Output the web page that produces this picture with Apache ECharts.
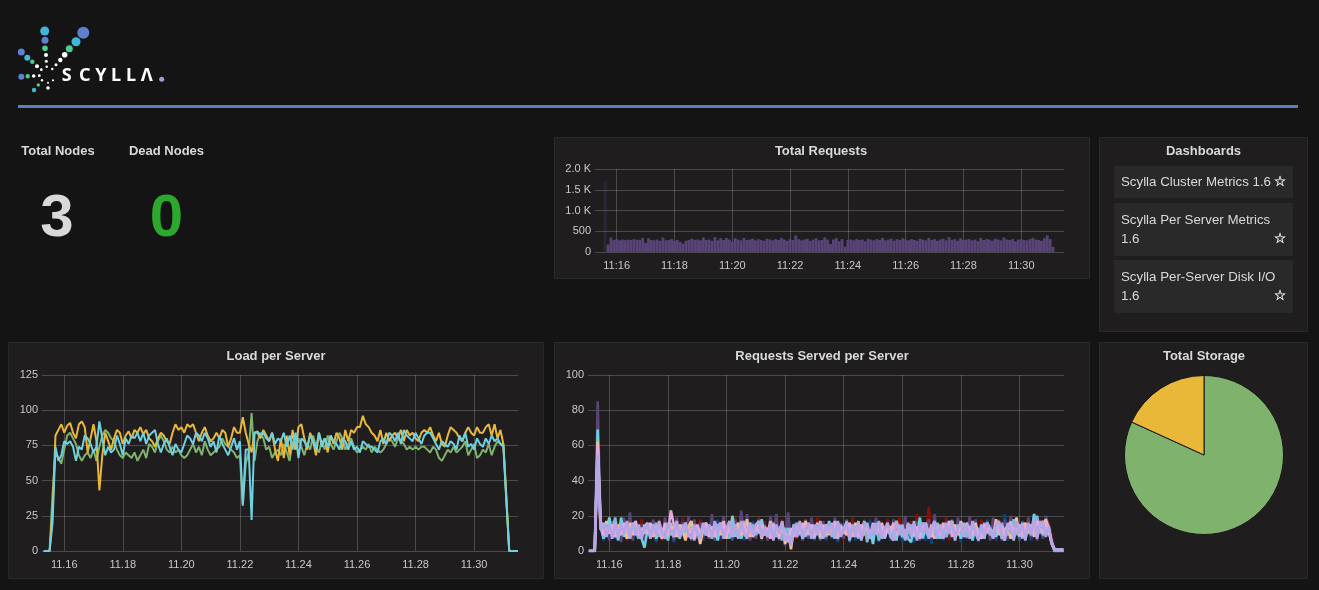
<!DOCTYPE html>
<html lang="en">
<head>
    <meta charset="UTF-8">
    <title>Scylla Overview</title>
    <script src="https://cdn.jsdelivr.net/npm/echarts@6/dist/echarts.min.js"></script>
    <style>
        html, body { margin: 0; padding: 0; background: #141414; overflow: hidden; }
    </style>
</head>
<body>
    <div id="main" style="width: 1319px; height: 590px;"></div>
    <script>
        // minutes after 11:00, one tick every two minutes
        const tickMinutes = [16, 18, 20, 22, 24, 26, 28, 30];
        const requestTickValues = [0, 500, 1000, 1500, 2000];
        const requestTickLabels = ['0', '500', '1.0 K', '1.5 K', '2.0 K'];

        // Total Requests, one bar per sample from 11:15.6 on
        const totalRequestsStart = 15.6;
        const totalRequests = [
            1700,180,350,290,310,280,300,285,300,290,
            310,295,285,340,220,330,290,280,300,270,
            350,280,290,310,270,290,240,200,270,290,
            320,295,300,280,350,290,300,270,360,280,
            330,290,340,300,250,330,300,280,340,290,
            300,320,280,310,290,270,320,300,280,310,
            290,340,300,270,310,290,400,310,280,300,
            320,270,300,330,280,290,350,300,190,300,
            340,260,310,130,290,300,280,310,290,300,
            260,320,300,280,310,290,340,280,300,320,
            270,310,290,330,300,280,310,290,270,320,
            300,280,340,290,310,270,300,320,280,360,
            290,310,270,330,290,300,310,280,300,260,
            340,290,310,300,270,320,300,280,350,300,
            290,310,260,300,310,290,280,310,340,300,
            290,270,330,400,310,120
        ];

        // per server charts share one sample clock from 11:15.3 on
        const serverStart = 15.3;

        const loadYellow = [
            0,0,0,28,82,86,90,84,89,91,
            84,80,90,92,88,70,80,90,78,43,
            68,84,78,72,80,86,84,76,82,85,
            80,86,84,88,83,86,80,78,74,80,
            84,82,78,76,84,90,86,88,84,90,
            88,90,84,78,84,88,82,78,80,84,
            80,86,84,74,80,88,84,84,95,84,
            76,70,84,84,80,86,82,78,84,72,
            64,80,66,82,68,86,72,88,90,80,
            72,84,78,68,84,76,80,70,82,76,
            84,80,72,86,78,86,84,88,88,96,
            90,88,84,82,78,86,76,84,78,82,
            84,80,86,78,86,82,84,80,78,84,
            86,84,88,82,78,84,76,74,82,88,
            86,84,80,78,84,88,84,82,88,84,
            84,88,90,82,90,80,86,76,38,0,
            0,0,0
        ];
        const loadGreen = [
            0,0,0,40,70,66,62,72,82,84,
            80,76,68,64,68,70,66,72,64,74,
            82,86,84,80,78,72,68,66,70,68,
            66,70,64,68,72,66,76,74,70,78,
            82,78,72,70,74,70,72,68,66,68,
            72,76,70,74,68,78,72,68,70,72,
            74,80,76,74,72,70,66,68,32,62,
            70,98,64,78,84,80,72,74,66,70,
            72,68,76,70,64,78,72,80,74,68,
            76,72,82,74,70,78,72,82,76,72,
            78,84,80,72,76,80,74,70,72,74,
            72,76,70,74,72,70,72,76,80,78,
            74,80,78,76,72,74,72,74,72,74,
            74,72,70,74,72,66,64,68,72,70,
            74,70,72,74,78,68,72,76,66,68,
            72,70,76,68,74,78,76,76,40,0,
            0,0,0
        ];
        const loadBlue = [
            0,0,0,20,74,64,68,78,76,78,
            74,64,74,72,82,80,76,70,74,92,
            80,68,74,70,72,82,76,68,80,76,
            82,80,84,78,84,76,82,84,86,76,
            70,76,80,74,68,76,72,70,76,82,
            80,76,84,82,78,84,80,74,78,70,
            82,76,72,68,74,80,72,78,33,72,
            72,22,84,85,82,84,80,78,84,76,
            80,78,84,74,82,72,84,66,80,78,
            74,82,78,72,84,74,80,74,82,78,
            76,72,80,78,72,78,72,74,70,78,
            76,74,74,72,70,78,80,76,84,82,
            78,84,76,86,82,80,78,84,80,76,
            82,84,84,80,76,72,78,76,74,78,
            76,72,82,78,84,74,76,72,80,76,
            74,80,76,82,78,80,76,74,36,0,
            0,0,0
        ];

        const servedDarkRed = [
            0,0,0,30,14,8,16,7,17,9,
            16,7,18,6,17,8,15,7,18,9,
            16,7,14,9,18,6,15,8,17,7,
            18,8,19,7,15,6,17,9,18,7,
            15,8,19,7,16,6,18,8,17,9,
            19,7,16,8,18,6,15,7,19,8,
            17,6,15,8,19,7,18,4,16,3,
            14,7,17,6,18,8,16,7,19,6,
            17,8,15,7,18,9,16,6,17,8,
            19,7,16,6,18,8,15,7,17,9,
            16,8,18,7,15,6,19,8,17,7,
            17,6,21,8,16,7,25,8,18,7,
            16,8,19,6,17,7,18,9,15,7,
            19,8,16,6,18,7,15,8,17,6,
            18,7,16,8,19,6,17,8,15,7,
            19,8,17,7,18,9,16,16,8,0,
            0,0,0
        ];
        const servedDarkBlue = [
            0,0,0,45,16,6,13,8,15,7,
            14,6,16,8,13,6,15,9,12,6,
            16,8,13,5,15,7,14,8,16,5,
            13,7,17,8,12,6,15,7,14,6,
            16,7,13,6,18,7,14,8,15,6,
            13,8,16,6,14,7,17,8,13,6,
            15,7,13,8,16,6,14,3,12,5,
            16,8,14,6,13,7,17,6,14,8,
            13,6,16,7,14,5,15,8,13,7,
            16,6,14,8,15,7,18,6,13,5,
            15,7,14,6,16,8,13,5,17,7,
            14,5,16,8,13,6,15,4,18,7,
            14,6,17,8,13,7,16,5,15,7,
            16,6,14,5,13,7,18,8,15,6,
            14,7,21,6,15,8,13,6,17,7,
            13,6,16,8,14,7,18,15,6,0,
            0,0,0
        ];
        const servedDarkPurple = [
            0,0,0,85,18,9,15,6,17,8,
            15,5,19,7,22,6,16,8,15,7,
            14,7,18,6,16,8,19,7,15,6,
            19,8,16,7,20,6,18,7,16,8,
            15,7,21,6,16,9,20,7,16,6,
            18,7,23,8,21,6,16,7,18,8,
            15,6,20,9,21,6,17,3,22,7,
            15,8,16,6,18,7,19,8,15,6,
            17,7,15,8,19,6,16,7,18,5,
            15,8,17,6,16,9,14,7,19,6,
            15,7,16,8,18,6,14,7,20,6,
            15,8,17,6,14,9,18,7,21,8,
            15,7,16,9,18,6,19,8,15,7,
            20,6,18,8,15,7,17,6,19,8,
            16,6,18,7,20,8,15,6,17,7,
            19,8,21,6,16,7,20,14,5,0,
            0,0,0
        ];
        const servedTeal = [
            0,0,0,69,15,7,12,19,9,14,
            6,19,8,13,7,15,9,14,7,2,
            12,8,15,7,14,9,13,6,16,8,
            13,7,15,9,12,16,8,14,7,13,
            9,15,8,12,6,16,9,14,7,20,
            8,15,7,13,9,16,8,14,10,18,
            9,13,7,15,8,12,16,6,13,9,
            15,8,13,7,16,9,14,8,15,7,
            12,9,17,8,14,7,15,10,16,6,
            13,8,15,7,17,9,12,4,16,8,
            14,7,13,9,16,6,15,8,12,7,
            5,15,8,19,7,14,9,13,8,16,
            7,12,9,15,17,8,13,7,16,9,
            14,6,15,8,13,7,16,9,12,8,
            15,7,13,9,17,6,14,8,16,7,
            14,9,21,8,17,9,13,11,5,0,
            0,0,0
        ];
        const servedPeach = [
            0,0,0,62,14,9,17,10,14,8,
            15,10,13,7,16,9,14,11,8,15,
            10,16,8,13,11,7,15,9,14,12,
            8,15,11,6,14,17,9,13,4,12,
            16,8,13,10,15,9,17,7,14,10,
            13,16,9,12,18,8,14,11,16,7,
            14,10,17,9,13,7,15,4,11,1,
            13,9,15,8,17,10,14,9,16,8,
            12,15,9,14,7,16,11,13,9,15,
            8,16,10,13,9,15,7,14,11,8,
            16,9,12,14,8,17,10,13,7,15,
            9,14,11,8,16,12,9,15,7,14,
            10,16,8,13,11,15,9,17,12,8,
            14,10,16,7,13,9,15,11,8,18,
            9,14,11,15,7,13,19,9,12,16,
            10,14,8,19,11,15,18,13,5,0,
            0,0,0
        ];
        const servedBlue = [
            0,0,0,58,13,8,15,11,13,19,
            8,14,10,12,9,16,11,7,13,10,
            15,9,12,16,8,13,10,14,9,12,
            16,8,11,14,9,13,6,12,10,15,
            9,13,11,8,14,16,10,12,8,15,
            11,9,13,17,8,12,15,9,13,10,
            14,8,12,16,9,11,6,13,10,7,
            12,16,9,13,8,14,11,7,15,10,
            13,8,16,11,9,14,10,12,17,8,
            11,14,7,13,16,5,12,9,15,6,
            13,10,15,8,12,17,9,14,6,11,
            15,8,12,9,16,11,8,13,10,7,
            14,11,8,17,12,9,15,10,14,8,
            12,15,9,13,7,16,10,12,8,14,
            11,16,8,13,10,18,9,14,7,12,
            15,9,13,20,10,14,9,12,4,0,
            0,0,0
        ];
        const servedPink = [
            0,0,0,60,17,9,13,10,15,8,
            13,9,16,11,8,14,17,9,13,10,
            12,15,9,14,11,8,16,10,23,15,
            9,14,11,16,8,13,7,15,10,12,
            16,9,14,8,13,11,16,9,13,8,
            15,10,12,16,9,14,8,13,11,15,
            9,13,7,15,11,8,14,10,5,13,
            8,14,10,16,9,12,15,8,13,10,
            15,9,13,11,17,8,14,10,12,16,
            9,13,8,15,11,14,7,16,10,12,
            15,8,13,10,16,9,12,14,8,15,
            11,9,14,7,13,16,10,8,15,12,
            9,15,11,17,8,13,10,14,8,16,
            12,9,14,10,7,15,11,13,8,16,
            10,14,8,13,16,9,12,15,8,14,
            11,15,9,17,13,10,16,11,4,1,
            1,1,1
        ];
        const servedLavender = [
            0,0,0,55,12,16,8,15,7,16,
            8,15,10,17,7,16,9,15,7,14,
            16,7,15,9,17,10,7,16,11,8,
            17,8,13,16,9,7,15,10,7,16,
            9,15,7,17,10,16,7,13,17,8,
            15,7,17,10,7,16,9,15,17,8,
            13,8,16,6,15,10,17,6,9,3,
            15,8,17,7,13,16,7,15,9,17,
            7,15,10,16,7,17,8,13,16,7,
            15,8,17,6,13,16,7,15,10,17,
            7,13,16,8,6,17,10,15,7,16,
            8,17,6,15,10,16,7,13,17,8,
            15,7,16,10,17,6,13,16,8,15,
            7,17,10,6,15,8,16,13,7,15,
            17,8,6,16,13,7,17,10,15,6,
            16,10,18,7,15,17,8,14,5,1,
            1,1,1
        ];

        const storageNames = ['Used', 'Free'];
        const storageValues = [81.8, 18.2];

        const textColor = '#d8d9da';
        const labelColor = '#c9c9c9';
        const gridColor = 'rgba(255,255,255,0.2)';
        const fontName = '"Liberation Sans", Arial, sans-serif';

        // pair each value with its sample time
        function timed(values, start) {
            return values.map((v, i) => [start + i / 10, v]);
        }

        function panel(x, y, w, h) {
            return {
                type: 'rect', z: -10, silent: true,
                shape: { x: x + 0.5, y: y + 0.5, width: w, height: h },
                style: { fill: '#1f1d1e', stroke: '#292929', lineWidth: 1 }
            };
        }

        function box(x, y, w, h) {
            return {
                type: 'rect', z: -5, silent: true,
                shape: { x, y, width: w, height: h },
                style: { fill: '#292929' }
            };
        }

        function label(text, x, y, opts) {
            return {
                type: 'text', z: 5, silent: true, x, y,
                style: Object.assign({
                    text, fill: textColor, font: '13.3px ' + fontName,
                    textAlign: 'left', textVerticalAlign: 'middle'
                }, opts || {})
            };
        }

        function title(text, x, y) {
            return label(text, x, y, { font: 'bold 13px ' + fontName, textAlign: 'center' });
        }

        function dot(x, y, r, fill) {
            return { type: 'circle', z: 5, silent: true, shape: { cx: x, cy: y, r }, style: { fill } };
        }

        const logo = [
            dot(44.7, 31, 4.5, '#3fb8d8'), dot(45, 40.3, 3.5, '#5f7fd0'), dot(45, 48.3, 2.8, '#4ecb8f'),
            dot(46, 55, 2, '#fff'), dot(46.3, 61.3, 1.5, '#fff'), dot(46.7, 66.7, 1.2, '#fff'),
            dot(83.3, 32.7, 6, '#5e7fd0'), dot(76, 41.7, 4.5, '#3fb8d8'), dot(69.3, 48.7, 3.5, '#4ecb8f'),
            dot(64.7, 54.7, 2.8, '#fff'), dot(60.3, 60, 2.2, '#fff'), dot(56, 64.7, 1.5, '#fff'), dot(52.3, 69, 1.2, '#fff'),
            dot(21.3, 52, 3.5, '#5f7fd0'), dot(27.3, 57.7, 3, '#3fb8d8'), dot(32.3, 61.7, 2.2, '#4ecb8f'),
            dot(37, 66.3, 2, '#fff'), dot(41.3, 69.7, 1.4, '#fff'),
            dot(21.3, 76.7, 3, '#5f7fd0'), dot(27.7, 76.3, 2.2, '#4ecb8f'), dot(33.7, 76, 1.8, '#fff'), dot(39.3, 75.7, 1.4, '#fff'),
            dot(42, 80.3, 1.2, '#fff'), dot(38.3, 85, 1.7, '#4ecb8f'), dot(34, 90, 2.2, '#3fb8d8'),
            dot(48, 82.7, 1, '#fff'), dot(48, 88, 1.8, '#fff'), dot(53, 80.3, 1.1, '#fff'),
            dot(161.7, 79.3, 2.5, '#ae94d6')
        ];
        [['S', 66.7], ['C', 84.7], ['Y', 101], ['L', 116], ['L', 131], ['Λ', 146.7]].forEach(([c, x]) => {
            logo.push(label(c, x, 76, { fill: '#fff', font: 'bold 18px "Noto Sans", sans-serif', textAlign: 'center' }));
        });

        const graphics = [
            ...logo,
            { type: 'rect', z: 1, silent: true, shape: { x: 18, y: 105, width: 1280, height: 3 }, style: { fill: '#5b80b8' } },
            panel(554, 137, 535, 141), panel(1099, 137, 208, 194),
            panel(8, 342, 535, 236), panel(554, 342, 535, 236), panel(1099, 342, 208, 236),
            title('Total Nodes', 58, 151), title('Dead Nodes', 166.5, 151),
            label('3', 57, 219, { font: 'bold 60px ' + fontName, textAlign: 'center', fill: '#d8d9da' }),
            label('0', 166.5, 219, { font: 'bold 60px ' + fontName, textAlign: 'center', fill: '#2ca82c' }),
            title('Total Requests', 821, 151), title('Dashboards', 1203.5, 151),
            title('Load per Server', 276, 356), title('Requests Served per Server', 822, 356), title('Total Storage', 1204, 356),
            box(1114, 166, 179, 32), box(1114, 203, 179, 53), box(1114, 260, 179, 53),
            label('Scylla Cluster Metrics 1.6', 1121, 182),
            label('Scylla Per Server Metrics', 1121, 220), label('1.6', 1121, 239),
            label('Scylla Per-Server Disk I/O', 1121, 277), label('1.6', 1121, 296)
        ];
        [182, 239, 296].forEach(y => {
            graphics.push(label('☆', 1280, y, { font: '14px "DejaVu Sans"', textAlign: 'center', stroke: textColor, lineWidth: 0.5 }));
        });

        function timeAxis(gridIndex, min, max, sep) {
            return {
                type: 'value', gridIndex, min, max,
                axisLine: { show: false },
                axisTick: { show: false, customValues: tickMinutes },
                axisLabel: {
                    customValues: tickMinutes, color: labelColor, fontSize: 11, fontFamily: fontName, margin: 8,
                    formatter: v => '11' + sep + v
                },
                splitLine: { show: true, lineStyle: { color: gridColor, width: 1 } }
            };
        }

        function valueAxis(gridIndex, max, interval, formatter) {
            return {
                type: 'value', gridIndex, min: 0, max, interval,
                axisLine: { show: false },
                axisTick: { show: false },
                axisLabel: { color: labelColor, fontSize: 11, fontFamily: fontName, margin: 4, formatter },
                splitLine: { show: true, lineStyle: { color: gridColor, width: 1 } }
            };
        }

        function serverLine(name, values, color, idx, width) {
            return {
                name, type: 'line', xAxisIndex: idx, yAxisIndex: idx,
                data: timed(values, serverStart),
                showSymbol: false, symbol: 'none', smooth: false, animation: false,
                lineStyle: { color, width }, itemStyle: { color }
            };
        }

        const option = {
            backgroundColor: '#141414',
            animation: false,
            graphic: { elements: graphics },
            grid: [
                { left: 595, top: 169, width: 469, height: 83 },
                { left: 42, top: 375, width: 476, height: 176 },
                { left: 588, top: 375, width: 476, height: 176 }
            ],
            xAxis: [
                timeAxis(0, 15.25, 31.48, ':'),
                timeAxis(1, 15.24, 31.5, '.'),
                timeAxis(2, 15.27, 31.52, '.')
            ],
            yAxis: [
                valueAxis(0, 2000, 500, v => requestTickLabels[requestTickValues.indexOf(v)]),
                valueAxis(1, 125, 25),
                valueAxis(2, 100, 20)
            ],
            series: [
                {
                    name: 'Total Requests', type: 'bar', xAxisIndex: 0, yAxisIndex: 0, barWidth: 2.9,
                    data: timed(totalRequests, totalRequestsStart).map((d, i) => i === 0
                        ? { value: d, itemStyle: { color: 'rgba(88,68,119,0.25)' } }
                        : { value: d }),
                    itemStyle: { color: '#574376' }
                },
                serverLine('load 1', loadGreen, '#7EB26D', 1, 2),
                serverLine('load 2', loadYellow, '#EAB839', 1, 2),
                serverLine('load 3', loadBlue, '#6ED0E0', 1, 2),
                serverLine('served 1', servedDarkRed, '#890F02', 2, 2.6),
                serverLine('served 2', servedDarkBlue, '#0A437C', 2, 2.6),
                serverLine('served 3', servedDarkPurple, '#584477', 2, 2.6),
                serverLine('served 4', servedTeal, '#6ED0E0', 2, 2.6),
                serverLine('served 5', servedPeach, '#F9BA8F', 2, 2.6),
                serverLine('served 6', servedBlue, '#82B5D8', 2, 2.6),
                serverLine('served 7', servedPink, '#E5A8E2', 2, 2.6),
                serverLine('served 8', servedLavender, '#B5A6E6', 2, 2.6),
                {
                    name: 'Total Storage', type: 'pie', center: [1204, 455], radius: [0, 79.5],
                    startAngle: 90, label: { show: false }, labelLine: { show: false }, silent: true,
                    itemStyle: { borderColor: '#161616', borderWidth: 1 },
                    data: storageNames.map((name, i) => ({
                        name, value: storageValues[i],
                        itemStyle: { color: i === 0 ? '#7EB26D' : '#EAB839' }
                    }))
                }
            ]
        };

        const myChart = echarts.init(document.getElementById('main'), null, { width: 1319, height: 590 });
        myChart.setOption(option);
    </script>
</body>
</html>
